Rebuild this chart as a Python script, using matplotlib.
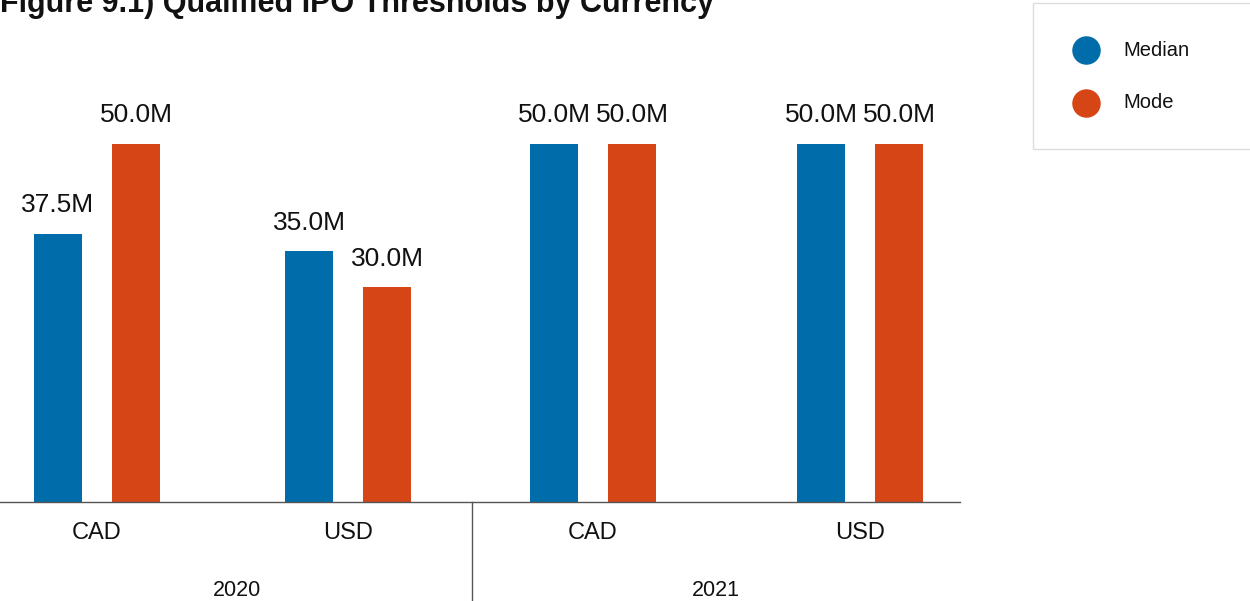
import numpy as np
import matplotlib.pyplot as plt
from matplotlib.lines import Line2D
from matplotlib.patches import Rectangle

# Datos: umbrales de IPO calificada (millones)
years = ['2020', '2021']
currencies = ['CAD', 'USD', 'CAD', 'USD']
median = [37.5, 35.0, 50.0, 50.0]
mode = [50.0, 30.0, 50.0, 50.0]

blue = '#006DAA'
orange = '#D54516'

fig = plt.figure(figsize=(12.5, 6.01), dpi=100)
ax = fig.add_axes([0, 0.1647, 0.768, 0.7148])

# Centros de cada grupo (eje x en píxeles del área de la gráfica)
centers = np.array([97, 348, 593, 860])
offset = 39
width = 48

b1 = ax.bar(centers - offset, median, width, color=blue)
b2 = ax.bar(centers + offset, mode, width, color=orange)

for bars, vals in [(b1, median), (b2, mode)]:
    for rect, v in zip(bars, vals):
        ax.annotate(f'{v:.1f}M', (rect.get_x() + rect.get_width() / 2, v),
                    xytext=(0, 12), textcoords='offset points',
                    ha='center', va='bottom', fontsize=19,
                    family='Liberation Sans', color='#111111')

ax.set_xlim(0, 960)
ax.set_ylim(0, 60)
ax.set_yticks([])
ax.set_xticks([])
for s in ['top', 'right', 'left']:
    ax.spines[s].set_visible(False)
ax.spines['bottom'].set_color('#555555')
ax.spines['bottom'].set_linewidth(1)

# Etiquetas de categoría y año debajo del eje
for c, lab in zip(centers, currencies):
    ax.text(c, -0.072, lab, transform=ax.get_xaxis_transform(),
            ha='center', va='center', fontsize=17,
            family='Liberation Sans', color='#111111')
for xc, yr in zip([237, 716], years):
    ax.text(xc, -0.205, yr, transform=ax.get_xaxis_transform(),
            ha='center', va='center', fontsize=15.5,
            family='Liberation Sans', color='#111111')

# Separador entre años
ax.plot([472, 472], [0, -0.23], transform=ax.get_xaxis_transform(),
        color='#555555', lw=1, clip_on=False)

fig.text(0.0, 1 - 12 / 601, 'Figure 9.1) Qualified IPO Thresholds by Currency',
         ha='left', va='baseline', fontsize=22, fontweight='bold',
         family='Liberation Sans', color='#111111')

# Leyenda dibujada a mano en coordenadas de la figura (píxeles)
W, H = 1250, 601
fig.patches.append(Rectangle((1033 / W, 1 - 149 / H), 230 / W, 146 / H,
                             transform=fig.transFigure, facecolor='white',
                             edgecolor='#dddddd', lw=1))
for yy, lab, col in [(50, 'Median', blue), (103, 'Mode', orange)]:
    fig.lines.append(Line2D([1086 / W], [1 - yy / H], marker='o', ls='',
                            markersize=19.5, color=col,
                            transform=fig.transFigure))
    fig.text(1123 / W, 1 - yy / H, lab, ha='left', va='center',
             fontsize=14.5, family='Liberation Sans', color='#111111')

fig.savefig('out.png', dpi=100)
